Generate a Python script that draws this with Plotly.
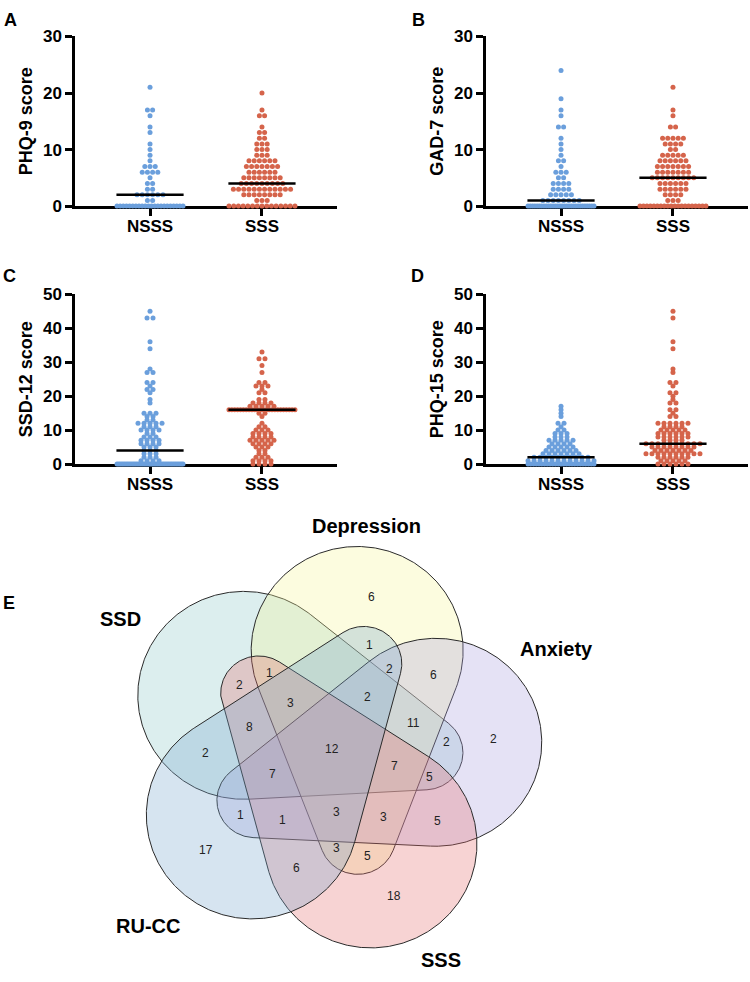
import numpy as np
import plotly.graph_objects as go

# ------------------------------------------------------------------ data
groups = ["NSSS", "SSS"]

# Panel A: PHQ-9 score
phq9_nsss_scores = [0, 1, 2, 3, 4, 5, 6, 7, 8, 9, 10, 11, 13, 14, 16, 17, 21]
phq9_nsss_counts = [22, 2, 6, 2, 2, 1, 4, 3, 1, 1, 1, 1, 1, 1, 1, 2, 1]
phq9_sss_scores = [0, 1, 2, 3, 4, 5, 6, 7, 8, 9, 10, 11, 12, 13, 14, 16, 17, 20]
phq9_sss_counts = [15, 3, 8, 12, 9, 8, 6, 7, 6, 3, 3, 3, 2, 2, 1, 2, 1, 1]

# Panel B: GAD-7 score
gad7_nsss_scores = [0, 1, 2, 3, 4, 5, 6, 7, 8, 9, 10, 11, 12, 14, 16, 17, 19, 24]
gad7_nsss_counts = [30, 8, 5, 4, 4, 2, 3, 1, 2, 1, 1, 1, 1, 2, 1, 1, 1, 1]
gad7_sss_scores = [0, 1, 2, 3, 4, 5, 6, 7, 8, 9, 10, 11, 12, 14, 16, 17, 21]
gad7_sss_counts = [20, 3, 4, 6, 6, 9, 7, 7, 6, 5, 2, 4, 5, 2, 1, 1, 1]

# Panel C: SSD-12 score
ssd12_nsss_scores = [0, 1, 2, 3, 4, 5, 6, 7, 8, 9, 10, 11, 12, 13, 14, 15, 18, 19,
                     21, 22, 23, 24, 27, 28, 34, 36, 43, 45]
ssd12_nsss_counts = [40, 4, 3, 3, 3, 3, 4, 4, 3, 2, 4, 3, 5, 2, 2, 3, 1, 1,
                     1, 2, 1, 2, 2, 1, 1, 1, 2, 1]
ssd12_sss_scores = [0, 1, 2, 3, 4, 5, 6, 7, 8, 9, 10, 11, 12, 14, 15, 16, 17, 18,
                    19, 21, 22, 23, 24, 27, 29, 31, 33]
ssd12_sss_counts = [4, 4, 3, 2, 2, 3, 4, 5, 4, 4, 3, 2, 1, 1, 2, 24, 5, 4,
                    2, 2, 1, 3, 2, 1, 1, 2, 1]

# Panel D: PHQ-15 score
phq15_nsss_scores = [0, 1, 2, 3, 4, 5, 6, 7, 8, 9, 10, 11, 12, 14, 15, 16, 17]
phq15_nsss_counts = [25, 12, 10, 7, 6, 5, 4, 5, 3, 3, 2, 1, 2, 1, 1, 1, 1]
phq15_sss_scores = [0, 1, 2, 3, 4, 5, 6, 7, 8, 9, 10, 11, 12, 14, 15, 16, 18, 19,
                    20, 21, 23, 24, 27, 28, 34, 36, 43, 45]
phq15_sss_counts = [6, 5, 6, 10, 7, 8, 10, 4, 6, 6, 5, 4, 6, 2, 1, 2, 2, 1,
                    1, 2, 1, 2, 1, 1, 1, 1, 1, 1]

# Panel E: five-set Venn diagram (region membership -> count)
venn_sets = ["SSD", "Depression", "Anxiety", "SSS", "RU-CC"]
venn_regions = [
    ("Depression",), ("Depression", "RU-CC"), ("Depression", "Anxiety", "RU-CC"),
    ("Depression", "Anxiety"), ("SSD", "Depression", "Anxiety", "RU-CC"),
    ("SSD", "Depression", "Anxiety"), ("SSD", "Anxiety"), ("Anxiety",),
    ("SSD", "SSS"), ("SSD", "Depression", "SSS"), ("SSD", "Depression", "SSS", "RU-CC"),
    ("SSD", "SSS", "RU-CC"), ("SSD", "Depression", "Anxiety", "SSS", "RU-CC"),
    ("SSD", "RU-CC"), ("SSD", "Anxiety", "SSS", "RU-CC"),
    ("SSD", "Depression", "Anxiety", "SSS"), ("SSD", "Anxiety", "SSS"),
    ("Anxiety", "RU-CC"), ("Anxiety", "SSS", "RU-CC"),
    ("Depression", "Anxiety", "SSS", "RU-CC"), ("Depression", "Anxiety", "SSS"),
    ("Anxiety", "SSS"), ("RU-CC",), ("Depression", "SSS", "RU-CC"),
    ("Depression", "SSS"), ("SSS", "RU-CC"), ("SSS",),
]
venn_counts = [6, 1, 2, 6, 2, 11, 2, 2, 2, 1, 3, 8, 12, 2, 7, 7, 5, 1, 1, 3, 3, 5,
               17, 3, 5, 6, 18]

# ------------------------------------------------------------------ style
FONT = "Liberation Sans, Arial, Helvetica, sans-serif"
BLUE = "#6b9fdc"
RED = "#d5644b"
W, H = 750, 982
PX_PER_UNIT = 112.0
DOT_SPACING_AB = 5.2
DOT_SPACING_CD = 6.0
MAX_HALF = 33.0

fig = go.Figure()


def swarm(scores, counts, center, spacing):
    xs, ys = [], []
    for v, n in zip(scores, counts):
        s = spacing
        if n > 1 and (n - 1) * s > 2 * MAX_HALF:
            s = 2 * MAX_HALF / (n - 1)
        for k in range(n):
            xs.append(center + (k - (n - 1) / 2) * s / PX_PER_UNIT)
            ys.append(v)
    return xs, ys


panels = [
    ("x", "y", "<b>PHQ-9 score</b>", [0, 30], [0, 10, 20, 30], DOT_SPACING_AB,
     [(phq9_nsss_scores, phq9_nsss_counts), (phq9_sss_scores, phq9_sss_counts)]),
    ("x2", "y2", "<b>GAD-7 score</b>", [0, 30], [0, 10, 20, 30], DOT_SPACING_AB,
     [(gad7_nsss_scores, gad7_nsss_counts), (gad7_sss_scores, gad7_sss_counts)]),
    ("x3", "y3", "<b>SSD-12 score</b>", [0, 50], [0, 10, 20, 30, 40, 50], DOT_SPACING_CD,
     [(ssd12_nsss_scores, ssd12_nsss_counts), (ssd12_sss_scores, ssd12_sss_counts)]),
    ("x4", "y4", "<b>PHQ-15 score</b>", [0, 50], [0, 10, 20, 30, 40, 50], DOT_SPACING_CD,
     [(phq15_nsss_scores, phq15_nsss_counts), (phq15_sss_scores, phq15_sss_counts)]),
]

xdomains = [[75 / W, 337 / W], [486 / W, 748 / W], [75 / W, 337 / W], [486 / W, 748 / W]]
ydomains = [[1 - 201 / H, 1 - 28 / H], [1 - 201 / H, 1 - 28 / H],
            [1 - 464 / H, 1 - 291 / H], [1 - 464 / H, 1 - 291 / H]]

layout_axes = {}
for i, (xa, ya, title, yr, yt, spacing, data) in enumerate(panels):
    for gi, (sc, ct) in enumerate(data):
        xs, ys = swarm(sc, ct, gi, spacing)
        fig.add_trace(go.Scatter(
            x=xs, y=ys, xaxis=xa, yaxis=ya, mode="markers",
            marker=dict(size=5, color=BLUE if gi == 0 else RED, line=dict(width=0)),
            cliponaxis=False, hoverinfo="skip", showlegend=False))
    for gi, (sc, ct) in enumerate(data):
        med = float(np.median(np.repeat(sc, ct)))
        fig.add_trace(go.Scatter(
            x=[gi - 0.3, gi + 0.3], y=[med, med], xaxis=xa, yaxis=ya, mode="lines",
            line=dict(color="black", width=2.5), cliponaxis=False,
            hoverinfo="skip", showlegend=False))
    sfx = "" if i == 0 else str(i + 1)
    layout_axes["xaxis" + sfx] = dict(
        domain=xdomains[i], range=[-0.67, 1.67], tickvals=[0, 1],
        ticktext=["<b>%s</b>" % g for g in groups], showline=True, linecolor="black",
        linewidth=2.5, ticks="outside", ticklen=7, tickwidth=2.5, tickcolor="black",
        showgrid=False, zeroline=False, layer="below traces", fixedrange=True,
        ticklabelstandoff=-4,
        tickfont=dict(family=FONT, size=17, color="black"), anchor=ya)
    layout_axes["yaxis" + sfx] = dict(
        domain=ydomains[i], range=yr, tickvals=yt,
        ticktext=["<b>%d</b>" % t for t in yt], showline=True, linecolor="black",
        linewidth=2.5, ticks="outside", ticklen=7, tickwidth=2.5, tickcolor="black",
        showgrid=False, zeroline=False, layer="below traces", fixedrange=True,
        tickfont=dict(family=FONT, size=17, color="black"), anchor=xa,
        title=dict(text=title, font=dict(family=FONT, size=18, color="black"), standoff=6))

# ------------------------------------------------------------------ Venn template
VC_X, VC_Y = 332, 755           # pixel position of the diagram centre
R_BIG_C, R_END_C = 104.0, 93.0  # distance of big / small circle centres from centre
R1, R2 = 106.0, 38.0
set_angle = {"Depression": -76, "SSD": -148, "RU-CC": -220, "SSS": -292, "Anxiety": -364}
set_fill = {
    "SSD": "rgba(140,200,200,0.30)",
    "Depression": "rgba(245,245,150,0.30)",
    "Anxiety": "rgba(170,160,222,0.30)",
    "SSS": "rgba(228,110,110,0.30)",
    "RU-CC": "rgba(120,165,205,0.30)",
}
set_label_pos = {"Depression": (34, -228), "SSD": (-212, -133), "Anxiety": (224, -102),
                 "RU-CC": (-184, 180), "SSS": (109, 215)}

# label anchor of every region of the five-set template (relative to centre)
S, D, A, Q, R = "SSD", "Depression", "Anxiety", "SSS", "RU-CC"
region_anchor = {
    frozenset([D]): (39, -155), frozenset([D, R]): (37, -106),
    frozenset([D, A, R]): (57, -82), frozenset([D, A]): (101, -76),
    frozenset([S, D, A, R]): (35, -53), frozenset([S, D, A]): (81, -27),
    frozenset([S, A]): (114, -8), frozenset([A]): (161, -11),
    frozenset([S, Q]): (-93, -66), frozenset([S, D, Q]): (-63, -78),
    frozenset([S, D, Q, R]): (-42, -47), frozenset([S, Q, R]): (-83, -23),
    frozenset([S, D, A, Q, R]): (0, 0), frozenset([S, R]): (-127, 4),
    frozenset([S, A, Q, R]): (-60, 25), frozenset([S, D, A, Q]): (62, 17),
    frozenset([S, A, Q]): (97, 28), frozenset([A, R]): (-92, 67),
    frozenset([A, Q, R]): (-50, 72), frozenset([D, A, Q, R]): (4, 64),
    frozenset([D, A, Q]): (51, 69), frozenset([A, Q]): (105, 73),
    frozenset([R]): (-126, 103), frozenset([D, Q, R]): (4, 101),
    frozenset([D, Q]): (35, 109), frozenset([Q, R]): (-36, 121),
    frozenset([Q]): (62, 150),
}


def egg(name):
    a = np.deg2rad(set_angle[name])
    B = R_BIG_C * np.array([np.cos(a), np.sin(a)])
    b = a + np.deg2rad(150)
    E = R_END_C * np.array([np.cos(b), np.sin(b)])
    d = np.linalg.norm(E - B)
    u = (E - B) / d
    n = np.array([-u[1], u[0]])
    beta = np.arccos((R1 - R2) / d)
    ab = np.linspace(beta, 2 * np.pi - beta, 320)
    as_ = np.linspace(-beta, beta, 90)
    pb = B + R1 * (np.cos(ab)[:, None] * u + np.sin(ab)[:, None] * n)
    ps = E + R2 * (np.cos(as_)[:, None] * u + np.sin(as_)[:, None] * n)
    return np.vstack([pb, ps, pb[:1]])


draw_order = ["SSD", "Depression", "Anxiety", "SSS", "RU-CC"]
for nm in draw_order:
    pts = egg(nm)
    fig.add_trace(go.Scatter(
        x=pts[:, 0], y=pts[:, 1], xaxis="x5", yaxis="y5", mode="lines",
        fill="toself", fillcolor=set_fill[nm], line=dict(color="#2a2a2a", width=1),
        hoverinfo="skip", showlegend=False))

ann = []
for reg, cnt in zip(venn_regions, venn_counts):
    px, py = region_anchor[frozenset(reg)]
    ann.append(dict(x=px, y=py, xref="x5", yref="y5", text=str(cnt),
                    showarrow=False, font=dict(family=FONT, size=12, color="#222")))

for nm, (lx, ly) in set_label_pos.items():
    ann.append(dict(x=lx, y=ly, xref="x5", yref="y5", text="<b>%s</b>" % nm,
                    showarrow=False, font=dict(family=FONT, size=20, color="black")))

# panel letters
for letter, (px, py) in {"A": (10, 11), "B": (418, 11), "C": (9, 272),
                         "D": (417, 272), "E": (9, 606)}.items():
    ann.append(dict(x=px / W, y=1 - py / H, xref="paper", yref="paper",
                    text="<b>%s</b>" % letter, showarrow=False, xanchor="center",
                    yanchor="middle", font=dict(family=FONT, size=18, color="black")))

VTOP = 500
layout_axes["xaxis5"] = dict(domain=[0, 1], range=[-VC_X, W - VC_X], visible=False,
                             fixedrange=True, anchor="y5")
layout_axes["yaxis5"] = dict(domain=[0, (H - VTOP) / H], range=[H - VC_Y, VTOP - VC_Y],
                             visible=False, fixedrange=True, anchor="x5")

fig.update_layout(
    width=W, height=H, margin=dict(l=0, r=0, t=0, b=0),
    paper_bgcolor="white", plot_bgcolor="white", showlegend=False,
    annotations=ann, font=dict(family=FONT, color="black"), **layout_axes)

fig.write_html("out.html")
